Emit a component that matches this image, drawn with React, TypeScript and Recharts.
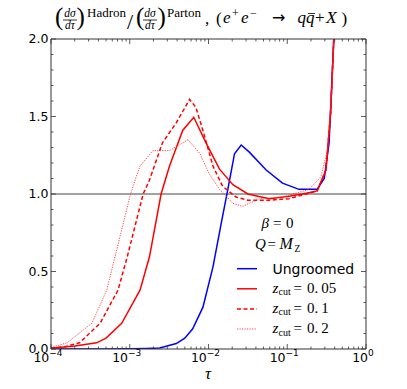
import React from 'react';
import { LineChart, Line, XAxis, YAxis, ReferenceLine } from 'recharts';

// tau values and hadron/parton ratios
const ungroomedTau = [1e-4, 5e-4, 1e-3, 1.6e-3, 2.4e-3, 3.9e-3, 5e-3, 6.3e-3, 8.5e-3, 0.0114, 0.0145, 0.0176, 0.0214, 0.026, 0.033, 0.054, 0.087, 0.141, 0.24, 0.295, 0.34, 0.39, 0.42];
const ungroomedRatio = [0, 0, 0.001, 0.003, 0.006, 0.035, 0.07, 0.13, 0.27, 0.53, 0.81, 1.03, 1.26, 1.316, 1.27, 1.155, 1.07, 1.03, 1.03, 1.1, 1.33, 2.0, 2.4];

const zcut005Tau = [1e-4, 2e-4, 3.8e-4, 5e-4, 7.9e-4, 1.35e-3, 1.78e-3, 2.5e-3, 3.2e-3, 4.7e-3, 6.5e-3, 9.3e-3, 0.0138, 0.0204, 0.0316, 0.059, 0.106, 0.174, 0.24, 0.31, 0.355, 0.39, 0.42];
const zcut005Ratio = [0.005, 0.02, 0.04, 0.07, 0.166, 0.38, 0.595, 1.0, 1.18, 1.41, 1.495, 1.33, 1.16, 1.06, 1.0, 0.97, 0.985, 1.005, 1.02, 1.155, 1.52, 2.0, 2.4];

const zcut01Tau = [1e-4, 1.5e-4, 2.3e-4, 4.2e-4, 7.1e-4, 9.3e-4, 1.48e-3, 1.78e-3, 2.6e-3, 3.9e-3, 5.75e-3, 6.9e-3, 8.5e-3, 0.0114, 0.0151, 0.0224, 0.0316, 0.059, 0.106, 0.174, 0.24, 0.31, 0.355, 0.39, 0.42];
const zcut01Ratio = [0.005, 0.015, 0.04, 0.166, 0.38, 0.595, 1.0, 1.09, 1.33, 1.46, 1.61, 1.56, 1.41, 1.18, 1.05, 0.98, 0.96, 0.96, 0.97, 1.0, 1.02, 1.155, 1.52, 2.0, 2.4];

const zcut02Tau = [1e-4, 1.6e-4, 3.3e-4, 5.1e-4, 6.5e-4, 1.0e-3, 1.1e-3, 1.35e-3, 1.97e-3, 3.2e-3, 5.5e-3, 7.8e-3, 0.0102, 0.0138, 0.0204, 0.027, 0.033, 0.045, 0.087, 0.19, 0.266, 0.324, 0.37, 0.39, 0.42];
const zcut02Ratio = [0.01, 0.04, 0.166, 0.38, 0.595, 0.98, 1.05, 1.18, 1.28, 1.28, 1.35, 1.26, 1.13, 1.03, 0.94, 0.92, 0.94, 0.97, 0.98, 1.03, 1.11, 1.28, 1.7, 2.0, 2.4];

const xTicks = [
  1e-4, 2e-4, 3e-4, 4e-4, 5e-4, 6e-4, 7e-4, 8e-4, 9e-4,
  1e-3, 2e-3, 3e-3, 4e-3, 5e-3, 6e-3, 7e-3, 8e-3, 9e-3,
  1e-2, 2e-2, 3e-2, 4e-2, 5e-2, 6e-2, 7e-2, 8e-2, 9e-2,
  1e-1, 2e-1, 3e-1, 4e-1, 5e-1, 6e-1, 7e-1, 8e-1, 9e-1,
  1,
];
const yTicks = [0, 0.1, 0.2, 0.3, 0.4, 0.5, 0.6, 0.7, 0.8, 0.9, 1.0, 1.1, 1.2, 1.3, 1.4, 1.5, 1.6, 1.7, 1.8, 1.9, 2.0];
const yMajorLabels = ['0.0', '0.5', '1.0', '1.5', '2.0'];

const toRows = (tau: number[], ratio: number[]) => tau.map((t, i) => ({ tau: t, ratio: ratio[i] }));

const sans = "'DejaVu Sans', sans-serif";
const serif = "'Liberation Serif', 'DejaVu Serif', serif";
const axisColor = '#333';

const isMajorX = (v: number) => Math.abs(Math.log10(v) - Math.round(Math.log10(v))) < 1e-6;
const isMajorY = (v: number) => Math.abs(v * 2 - Math.round(v * 2)) < 1e-6;

const BottomTick = (props: any) => {
  const { x, y, payload } = props;
  const v = payload.value;
  const major = isMajorX(v);
  const exp = Math.round(Math.log10(v));
  return (
    <g>
      <line x1={x} x2={x} y1={y} y2={y - (major ? 5 : 2.5)} stroke={axisColor} strokeWidth={0.8} />
      {major && (
        <text x={x - 3} y={y + 13} textAnchor="middle" fontFamily={sans} fontSize={12.5} fill="#000">
          10
          <tspan dy={-6} fontSize={9}>{exp < 0 ? `\u2212${-exp}` : `${exp}`}</tspan>
        </text>
      )}
    </g>
  );
};

const TopTick = (props: any) => {
  const { x, y, payload } = props;
  const major = isMajorX(payload.value);
  return <line x1={x} x2={x} y1={y} y2={y + (major ? 5 : 2.5)} stroke={axisColor} strokeWidth={0.8} />;
};

const LeftTick = (props: any) => {
  const { x, y, payload } = props;
  const v = payload.value;
  const major = isMajorY(v);
  const label = yMajorLabels[Math.round(v * 2)];
  return (
    <g>
      <line x1={x} x2={x + (major ? 5 : 2.5)} y1={y} y2={y} stroke={axisColor} strokeWidth={0.8} />
      {major && (
        <text x={x - 2.5} y={y + 4.2} textAnchor="end" fontFamily={sans} fontSize={12.5} fill="#000">
          {label}
        </text>
      )}
    </g>
  );
};

const RightTick = (props: any) => {
  const { x, y, payload } = props;
  const major = isMajorY(payload.value);
  return <line x1={x} x2={x - (major ? 5 : 2.5)} y1={y} y2={y} stroke={axisColor} strokeWidth={0.8} />;
};

const series = [
  { key: 'ungroomed', label: 'Ungroomed', rows: toRows(ungroomedTau, ungroomedRatio), color: '#0000ff', dash: undefined, width: 1.5 },
  { key: 'z005', label: '0.\u200905', rows: toRows(zcut005Tau, zcut005Ratio), color: '#ff0000', dash: undefined, width: 1.5 },
  { key: 'z01', label: '0.\u20091', rows: toRows(zcut01Tau, zcut01Ratio), color: '#ff0000', dash: '4 2.5', width: 1.5 },
  { key: 'z02', label: '0.\u20092', rows: toRows(zcut02Tau, zcut02Ratio), color: '#ff3030', dash: '1.2 1.3', width: 0.9 },
];

const Annotations = () => (
  <svg width={407} height={389} style={{ position: 'absolute', left: 0, top: 0, pointerEvents: 'none' }}>
    <g fontFamily={serif} fill="#000">
      {/* title */}
      <text x={55} y={24.5} fontSize={25}>(</text>
      <text x={70} y={17} fontSize={11.5} fontStyle="italic" textAnchor="middle">dσ</text>
      <line x1={63} x2={77} y1={20} y2={20} stroke="#000" strokeWidth={0.8} />
      <text x={70} y={29} fontSize={11.5} fontStyle="italic" textAnchor="middle">dτ</text>
      <text x={76.5} y={24.5} fontSize={25}>)</text>
      <text x={87} y={17} fontSize={13}>Hadron</text>
      <text x={127} y={29} fontSize={22}>/</text>
      <text x={136} y={24.5} fontSize={25}>(</text>
      <text x={150} y={17} fontSize={11.5} fontStyle="italic" textAnchor="middle">dσ</text>
      <line x1={143} x2={157} y1={20} y2={20} stroke="#000" strokeWidth={0.8} />
      <text x={150} y={29} fontSize={11.5} fontStyle="italic" textAnchor="middle">dτ</text>
      <text x={157.5} y={24.5} fontSize={25}>)</text>
      <text x={167} y={17} fontSize={13}>Parton</text>
      <text x={205} y={24} fontSize={17}>,</text>
      <text x={216} y={24} fontSize={17}>(</text>
      <text x={223} y={23} fontSize={17} fontStyle="italic">e</text>
      <text x={232} y={16.5} fontSize={12}>+</text>
      <text x={241} y={23} fontSize={17} fontStyle="italic">e</text>
      <text x={250} y={16.5} fontSize={12}>−</text>
      <text x={272} y={23} fontSize={16} fontFamily={sans}>→</text>
      <text x={297.5} y={23} fontSize={17} fontStyle="italic">q</text>
      <text x={306} y={23} fontSize={17} fontStyle="italic">q</text>
      <line x1={308} x2={315} y1={13.5} y2={13.5} stroke="#000" strokeWidth={0.8} />
      <text x={315} y={23} fontSize={17}>+</text>
      <text x={326} y={23} fontSize={17.5} fontStyle="italic">X</text>
      <text x={341.5} y={24} fontSize={17}>)</text>

      {/* x axis label */}
      <text x={208} y={379} fontSize={17} fontStyle="italic" textAnchor="middle">τ</text>

      {/* legend notes */}
      <text x={261.5} y={228.3} fontSize={15} fontStyle="italic">β</text>
      <text x={273} y={228.3} fontSize={15}>=</text>
      <text x={286} y={228.3} fontSize={15}>0</text>
      <text x={255} y={249.3} fontSize={15} fontStyle="italic">Q</text>
      <text x={267.5} y={249.3} fontSize={15}>=</text>
      <text x={279.5} y={249.3} fontSize={16} fontStyle="italic">M</text>
      <text x={294.5} y={252} fontSize={9.5}>Z</text>
    </g>

    {series.map((s, i) => {
      const ly = 268.7 + i * 20.1;
      return (
        <g key={s.key}>
          <line x1={237} x2={257} y1={ly} y2={ly} stroke={s.color} strokeWidth={s.width} strokeDasharray={s.dash} />
          {i === 0 ? (
            <text x={272.5} y={ly + 4.8} fontFamily={sans} fontSize={14} fill="#000">{s.label}</text>
          ) : (
            <g fontFamily={serif} fill="#000">
              <text x={272.5} y={ly + 4.3} fontSize={15} fontStyle="italic">z</text>
              <text x={278.5} y={ly + 6.5} fontSize={10}>cut</text>
              <text x={293.5} y={ly + 4.3} fontSize={15}>=</text>
              <text x={307} y={ly + 4.3} fontSize={15}>{s.label}</text>
            </g>
          )}
        </g>
      );
    })}
  </svg>
);

const xAxisCommon = {
  dataKey: 'tau',
  type: 'number' as const,
  scale: 'log' as const,
  domain: [1e-4, 1],
  allowDataOverflow: true,
  ticks: xTicks,
  interval: 0,
  height: 1,
  tickSize: 0,
  tickMargin: 0,
  tickLine: false,
  stroke: axisColor,
};

const yAxisCommon = {
  type: 'number' as const,
  domain: [0, 2],
  allowDataOverflow: true,
  ticks: yTicks,
  interval: 0,
  width: 1,
  tickSize: 0,
  tickMargin: 0,
  tickLine: false,
  stroke: axisColor,
};

export default function App() {
  return (
    <div style={{ position: 'absolute', left: 0, top: 0, width: 407, height: 389, background: '#fff' }}>
      <LineChart width={407} height={389} margin={{ top: 38, right: 40, bottom: 39, left: 50 }}>
        <XAxis {...xAxisCommon} tick={<BottomTick />} />
        <XAxis {...xAxisCommon} xAxisId="top" orientation="top" tick={<TopTick />} />
        <YAxis {...yAxisCommon} tick={<LeftTick />} />
        <YAxis {...yAxisCommon} yAxisId="right" orientation="right" tick={<RightTick />} />
        <ReferenceLine y={1} stroke="#444" strokeWidth={1} />
        {series.map((s) => (
          <Line
            key={s.key}
            data={s.rows}
            dataKey="ratio"
            type="linear"
            stroke={s.color}
            strokeWidth={s.width}
            strokeDasharray={s.dash}
            dot={false}
            activeDot={false}
            isAnimationActive={false}
          />
        ))}
      </LineChart>
      <Annotations />
    </div>
  );
}
